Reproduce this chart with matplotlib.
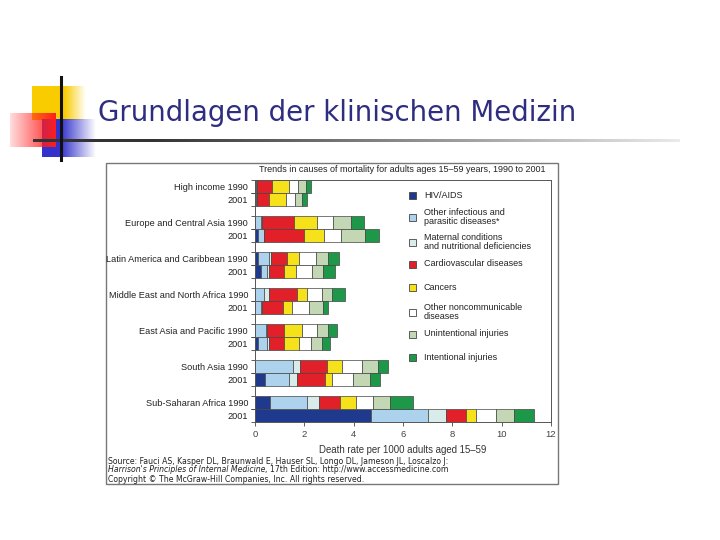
import numpy as np
import matplotlib.pyplot as plt
from matplotlib.patches import Rectangle

# Trends in causes of mortality, adults 15-59, 1990 vs 2001
regions = ["High income", "Europe and Central Asia", "Latin America and Caribbean",
           "Middle East and North Africa", "East Asia and Pacific", "South Asia",
           "Sub-Saharan Africa"]
years = ["1990", "2001"]

causes = ["HIV/AIDS", "Other infectious and\nparasitic diseases*",
          "Maternal conditions\nand nutritional deficiencies", "Cardiovascular diseases",
          "Cancers", "Other noncommunicable\ndiseases", "Unintentional injuries",
          "Intentional injuries"]
colors = ["#1f3a8c", "#acd2ee", "#d9ecea", "#e2202a", "#f6e21a", "#ffffff",
          "#c3d7b4", "#1c9848"]

# rows: region 1990, region 2001, ...
hiv = [0.05, 0.05, 0.0, 0.12, 0.12, 0.23, 0.02, 0.02, 0.02, 0.12, 0.02, 0.39, 0.61, 4.70]
other_inf = [0.0, 0.0, 0.23, 0.24, 0.45, 0.27, 0.36, 0.21, 0.41, 0.35, 1.52, 1.00, 1.48, 2.32]
maternal = [0.04, 0.04, 0.07, 0.02, 0.07, 0.07, 0.19, 0.07, 0.07, 0.10, 0.28, 0.32, 0.49, 0.71]
cardio = [0.59, 0.48, 1.29, 1.61, 0.64, 0.62, 1.13, 0.83, 0.67, 0.59, 1.09, 1.12, 0.86, 0.81]
cancers = [0.71, 0.67, 0.92, 0.82, 0.51, 0.47, 0.39, 0.38, 0.72, 0.63, 0.62, 0.30, 0.66, 0.43]
other_ncd = [0.35, 0.38, 0.64, 0.68, 0.68, 0.66, 0.63, 0.69, 0.63, 0.50, 0.81, 0.85, 0.69, 0.80]
unintentional = [0.34, 0.27, 0.74, 0.96, 0.47, 0.45, 0.41, 0.54, 0.42, 0.42, 0.64, 0.68, 0.68, 0.74]
intentional = [0.18, 0.20, 0.51, 0.59, 0.45, 0.48, 0.51, 0.20, 0.37, 0.33, 0.40, 0.39, 0.94, 0.79]

series = [hiv, other_inf, maternal, cardio, cancers, other_ncd, unintentional, intentional]

fig = plt.figure(figsize=(7.2, 5.4), dpi=100)

# background layer in pixel coordinates (slide decorations, frame, source text)
bg = fig.add_axes([0, 0, 1, 1])
bg.set_xlim(0, 720)
bg.set_ylim(540, 0)
bg.axis("off")


def gradient_rect(x0, x1, y0, y1, rgb, solid_until, fade_left=False):
    # horizontal fade of a solid colour to white
    xs = np.linspace(0, 1, 200)
    if fade_left:
        a = 0.15 + 0.85 * xs
    else:
        a = np.clip((1 - xs) / (1 - solid_until), 0, 1)
    img = np.ones((2, 200, 4))
    img[..., :3] = rgb
    img[..., 3] = a
    bg.imshow(img, extent=(x0, x1, y1, y0), aspect="auto", interpolation="bilinear", zorder=2)


gradient_rect(32, 86, 86, 120, (0.98, 0.80, 0.0), 0.6)
gradient_rect(42, 96, 119, 157, (0.20, 0.20, 0.80), 0.35)
gradient_rect(10, 56, 113, 147, (1.0, 0.12, 0.12), 0, fade_left=True)

# underline fading to light grey
xs = np.linspace(33, 680, 400)
g = 0.2 + 0.72 * np.clip((xs - 150) / 530, 0, 1)
line_img = np.ones((2, len(xs), 3)) * g[None, :, None]
bg.imshow(line_img, extent=(33, 680, 142.5, 139.5), aspect="auto", interpolation="bilinear", zorder=4)
bg.plot([61, 61], [77, 160], color="#111111", lw=2.2, zorder=5)
bg.set_xlim(0, 720)
bg.set_ylim(540, 0)

bg.text(98, 121, "Grundlagen der klinischen Medizin", fontsize=19.9, color="#2e2d80",
        family="DejaVu Sans", va="baseline", ha="left", zorder=5)

# outer picture frame
bg.add_patch(Rectangle((106, 163), 452, 321, fill=False, edgecolor="#777777", lw=1.0))
bg.text(402, 169, "Trends in causes of mortality for adults ages 15\u201359 years, 1990 to 2001",
        fontsize=6.5, family="Liberation Sans", color="#222222", ha="center", va="center")

src = dict(fontsize=5.6, family="DejaVu Sans", color="#222222", ha="left", va="center")
bg.text(108, 461, "Source: Fauci AS, Kasper DL, Braunwald E, Hauser SL, Longo DL, Jameson JL, Loscalzo J:", **src)
t1 = bg.text(108, 470, "Harrison's Principles of Internal Medicine", style="italic", **src)
fig.canvas.draw()
bb = t1.get_window_extent().transformed(bg.transData.inverted())
bg.text(bb.x1, 470, ", 17th Edition: http://www.accessmedicine.com", **src)
bg.text(108, 480, "Copyright \u00a9 The McGraw-Hill Companies, Inc. All rights reserved.", **src)

# legend
legend_y = [195, 217, 242, 264, 287, 312, 334, 357]
for c, col, ly in zip(causes, colors, legend_y):
    bg.add_patch(Rectangle((409, ly - 3.5), 7, 7, facecolor=col, edgecolor="#444444", lw=0.6, zorder=5))
    bg.text(424, ly, c, fontsize=6.5, family="Liberation Sans", color="#222222",
            va="center", ha="left", linespacing=1.05, zorder=5)

# chart
ax = fig.add_axes([255 / 720, 1 - 422 / 540, 296 / 720, 242 / 540])
ypos = []
labels = []
for i, r in enumerate(regions):
    for j, yr in enumerate(years):
        ypos.append(2.8 * i + j)
        labels.append(f"{r} {yr}" if j == 0 else yr)
ypos = np.array(ypos)

left = np.zeros(len(ypos))
for vals, col in zip(series, colors):
    ax.barh(ypos, vals, left=left, height=1.0, color=col, edgecolor="#444444", linewidth=0.5)
    left += np.array(vals)

ax.set_xlim(0, 12)
ax.set_ylim(ypos[-1] + 0.46, -0.46)
ax.set_xticks(range(0, 13, 2))
ax.set_yticks(ypos)
ax.set_yticklabels(labels, fontsize=6.6, family="Liberation Sans", color="#222222")
ax.set_yticks(np.concatenate([ypos - 0.5, ypos + 0.5]), minor=True)
ax.tick_params(axis="y", which="major", length=0, pad=5)
ax.tick_params(axis="y", which="minor", length=3, width=0.6, color="#444444")
ax.tick_params(axis="x", length=3, width=0.6, color="#444444", labelsize=6.8, labelcolor="#444444", pad=3)
for lab in ax.get_xticklabels():
    lab.set_family("Liberation Sans")
ax.set_xlabel("Death rate per 1000 adults aged 15\u201359", fontsize=6.9, family="Liberation Sans",
              color="#333333", labelpad=4)
for s in ax.spines.values():
    s.set_color("#555555")
    s.set_linewidth(0.7)
ax.patch.set_alpha(0)

fig.savefig("out.png", dpi=100)
